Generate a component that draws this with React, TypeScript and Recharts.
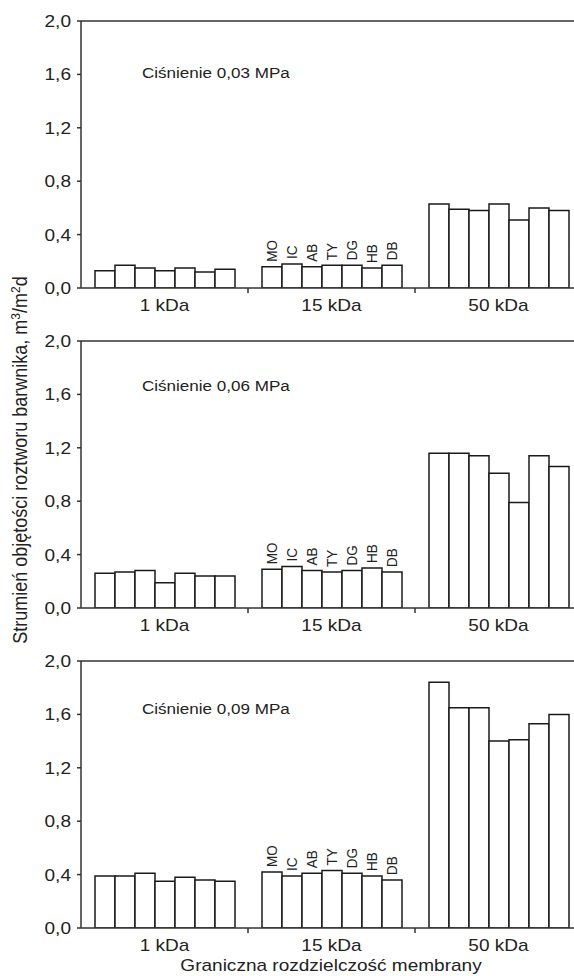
import React from 'react';
import { BarChart, Bar, XAxis, YAxis, ReferenceLine, Customized } from 'recharts';

// ---- data ----
const categories = ['1 kDa', '15 kDa', '50 kDa'];
const dyes = ['MO', 'IC', 'AB', 'TY', 'DG', 'HB', 'DB'];
const yTicks = [0, 0.4, 0.8, 1.2, 1.6, 2.0];
const pressures = ['Ciśnienie 0,03 MPa', 'Ciśnienie 0,06 MPa', 'Ciśnienie 0,09 MPa'];

// panel 1: 0,03 MPa
const p1_1kDa = [0.13, 0.17, 0.15, 0.13, 0.15, 0.12, 0.14];
const p1_15kDa = [0.16, 0.18, 0.16, 0.17, 0.17, 0.15, 0.17];
const p1_50kDa = [0.63, 0.59, 0.58, 0.63, 0.51, 0.60, 0.58];
// panel 2: 0,06 MPa
const p2_1kDa = [0.26, 0.27, 0.28, 0.19, 0.26, 0.24, 0.24];
const p2_15kDa = [0.29, 0.31, 0.28, 0.27, 0.28, 0.30, 0.27];
const p2_50kDa = [1.16, 1.16, 1.14, 1.01, 0.79, 1.14, 1.06];
// panel 3: 0,09 MPa
const p3_1kDa = [0.39, 0.39, 0.41, 0.35, 0.38, 0.36, 0.35];
const p3_15kDa = [0.42, 0.39, 0.41, 0.43, 0.41, 0.39, 0.36];
const p3_50kDa = [1.84, 1.65, 1.65, 1.40, 1.41, 1.53, 1.60];

const yLabelMain = 'Strumień objętości roztworu barwnika, m';
const xTitle = 'Graniczna rozdzielczość membrany';

const buildRows = (groups: number[][]) =>
  categories.map((c, ci) => {
    const row: any = { name: c };
    dyes.forEach((d, di) => {
      row[d] = groups[ci][di];
    });
    return row;
  });

const panels = [
  { rows: buildRows([p1_1kDa, p1_15kDa, p1_50kDa]), note: pressures[0], noteY: 78 },
  { rows: buildRows([p2_1kDa, p2_15kDa, p2_50kDa]), note: pressures[1], noteY: 71 },
  { rows: buildRows([p3_1kDa, p3_15kDa, p3_50kDa]), note: pressures[2], noteY: 74 },
];

// ---- styling ----
const FONT = '"Liberation Sans", Arial, Helvetica, sans-serif';
const AXIS = '#333';
const TEXT = '#222';
const SX = 1.12; // horizontal glyph stretch seen in the reference

const XTick = (props: any) => {
  const { x, y, payload } = props;
  const half = payload && typeof payload.offset === 'number' ? payload.offset : 83.5;
  const axisY = y - 11;
  return (
    <g>
      <line x1={x + half} x2={x + half} y1={axisY} y2={axisY + 5} stroke={AXIS} strokeWidth={1.5} />
      <text
        transform={`translate(${x}, ${y}) scale(${SX}, 1)`}
        dy="0.71em"
        textAnchor="middle"
        fontSize={17}
        fill={TEXT}
        fontFamily={FONT}
      >
        {payload.value}
      </text>
    </g>
  );
};

const YTick = (props: any) => {
  const { x, y, payload } = props;
  return (
    <text
      transform={`translate(${x}, ${y}) scale(${SX}, 1)`}
      dy="0.355em"
      textAnchor="end"
      fontSize={17}
      fill={TEXT}
      fontFamily={FONT}
    >
      {Number(payload.value).toFixed(1).replace('.', ',')}
    </text>
  );
};

const makeDyeLabel = (name: string) => (props: any) => {
  const { x, y, width, index } = props;
  if (index !== 1) return null;
  const cx = Number(x) + Number(width) / 2;
  const ty = Number(y) - 5;
  return (
    <text
      transform={`translate(${cx}, ${ty}) scale(${SX}, 1) rotate(-90)`}
      dy="0.36em"
      textAnchor="start"
      fontSize={13.5}
      fill={TEXT}
      fontFamily={FONT}
    >
      {name}
    </text>
  );
};

const Panel = ({ rows, note, noteY, last }: any) => (
  <BarChart
    width={590}
    height={last ? 336 : 320}
    data={rows}
    margin={{ top: 21, right: 8, left: 0, bottom: 0 }}
    barCategoryGap={14}
    barGap={0}
  >
    <ReferenceLine y={2} stroke={AXIS} strokeWidth={1.5} />
    <XAxis
      dataKey="name"
      type="category"
      height={last ? 48 : 32}
      stroke={AXIS}
      strokeWidth={1.5}
      tickLine={false}
      tickSize={5}
      tickMargin={6}
      tick={<XTick />}
      interval={0}
    />
    <YAxis
      type="number"
      domain={[0, 2]}
      ticks={yTicks}
      width={81}
      stroke={AXIS}
      strokeWidth={1.5}
      tickSize={4}
      tickMargin={6}
      tick={<YTick />}
      allowDataOverflow
    />
    {dyes.map((d) => (
      <Bar
        key={d}
        dataKey={d}
        fill="#ffffff"
        stroke="#1a1a1a"
        strokeWidth={1.5}
        isAnimationActive={false}
        label={makeDyeLabel(d)}
      />
    ))}
    <Customized
      component={() => (
        <text
          transform={`translate(142, ${noteY}) scale(1.1, 1)`}
          fontSize={15.5}
          fill={TEXT}
          fontFamily={FONT}
        >
          {note}
        </text>
      )}
    />
    {last ? (
      <Customized
        component={() => (
          <text
            transform={`translate(331, 331) scale(${SX}, 1)`}
            textAnchor="middle"
            fontSize={17}
            fill={TEXT}
            fontFamily={FONT}
          >
            {xTitle}
          </text>
        )}
      />
    ) : null}
  </BarChart>
);

export default function App() {
  return (
    <div
      style={{
        position: 'absolute',
        left: 0,
        top: 0,
        width: 574,
        height: 976,
        overflow: 'hidden',
        background: '#fff',
        fontFamily: FONT,
      }}
    >
      {panels.map((p, i) => (
        <div key={i} style={{ position: 'absolute', left: 0, top: i * 320 }}>
          <Panel rows={p.rows} note={p.note} noteY={p.noteY} last={i === 2} />
        </div>
      ))}
      <svg
        width={40}
        height={976}
        style={{ position: 'absolute', left: 0, top: 0, pointerEvents: 'none' }}
      >
        <text
          transform={`translate(27, 460) scale(${SX}, 1) rotate(-90)`}
          textAnchor="middle"
          fontSize={18}
          fill={TEXT}
          fontFamily={FONT}
        >
          {yLabelMain}
          <tspan dy={-6} fontSize={12}>3</tspan>
          <tspan dy={6}>/m</tspan>
          <tspan dy={-6} fontSize={12}>2</tspan>
          <tspan dy={6}>d</tspan>
        </text>
      </svg>
    </div>
  );
}
